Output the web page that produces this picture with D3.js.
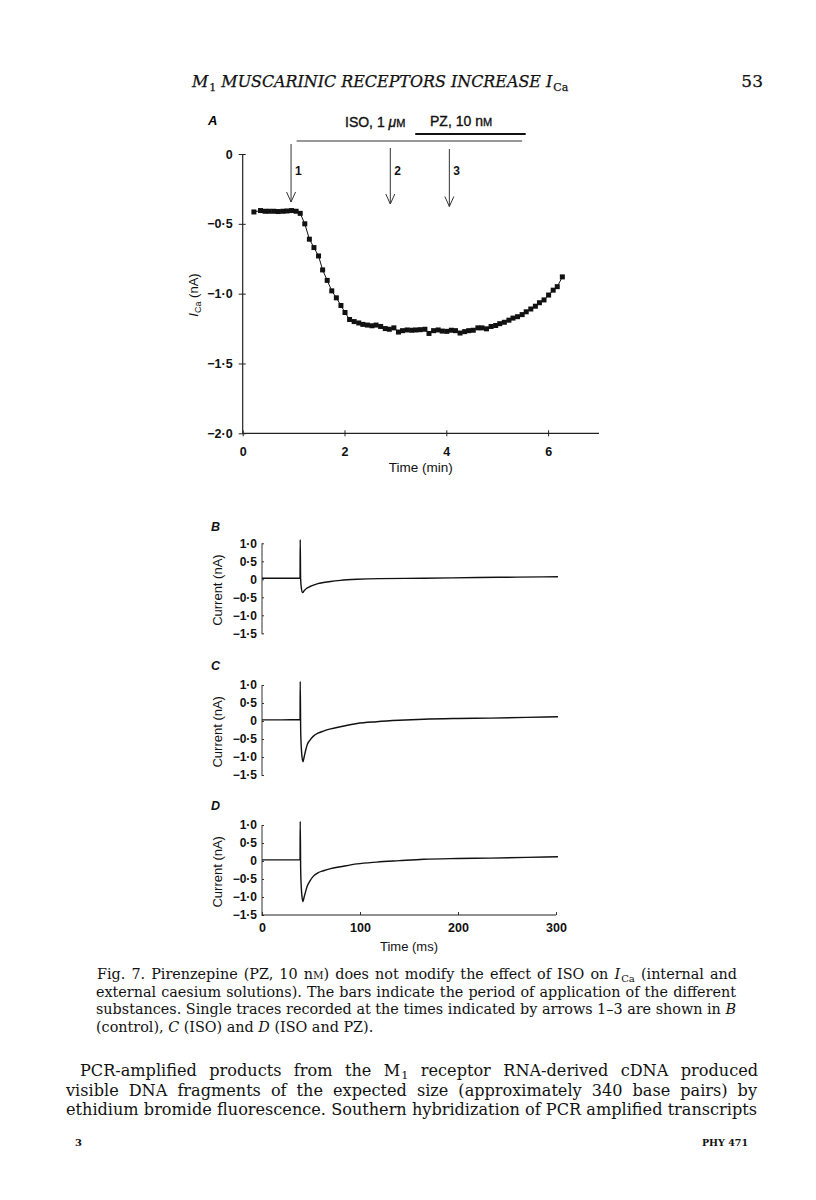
<!DOCTYPE html>
<html><head><meta charset="utf-8">
<script src="https://cdn.jsdelivr.net/npm/d3@7"></script>
<style>body{margin:0;background:#fff}</style>
</head><body>
<svg id="c" width="816" height="1200"></svg>
<script>
// ---------- DATA ----------
// Panel A: I_Ca (nA) vs time (min)
const timeMin = [0.22,0.35,0.44,0.52,0.61,0.70,0.79,0.87,0.96,1.05,1.13,1.22,1.31,1.40,1.49,1.57,1.66,1.75,1.84,1.93,2.01,2.10,2.19,2.28,2.36,2.45,2.54,2.62,2.71,2.80,2.88,2.97,3.06,3.14,3.23,3.32,3.40,3.49,3.58,3.66,3.75,3.84,3.92,4.01,4.10,4.18,4.27,4.36,4.44,4.53,4.62,4.70,4.79,4.88,4.97,5.05,5.14,5.23,5.31,5.40,5.49,5.57,5.66,5.75,5.83,5.92,6.01,6.10,6.18,6.28];
const iCa = [-0.415,-0.405,-0.41,-0.41,-0.41,-0.412,-0.41,-0.408,-0.405,-0.41,-0.425,-0.50,-0.61,-0.67,-0.73,-0.83,-0.905,-0.98,-1.03,-1.085,-1.135,-1.185,-1.20,-1.21,-1.22,-1.225,-1.23,-1.225,-1.235,-1.25,-1.255,-1.245,-1.275,-1.265,-1.26,-1.262,-1.26,-1.258,-1.255,-1.285,-1.265,-1.26,-1.268,-1.27,-1.262,-1.265,-1.282,-1.272,-1.265,-1.262,-1.245,-1.245,-1.252,-1.235,-1.228,-1.215,-1.205,-1.19,-1.175,-1.165,-1.15,-1.13,-1.11,-1.09,-1.065,-1.045,-1.01,-0.975,-0.95,-0.88];
const arrowTimes = [0.95, 2.90, 4.06];
const arrowLabels = ["1","2","3"];
const isoPeriod = [1.06, 5.49];
const pzPeriod = [3.39, 5.56];
const yTicksA = [0,-0.5,-1.0,-1.5,-2.0];
const xTicksA = [0,2,4,6];

// Panels B-D: single current traces (ms, nA)
const traceB_t = [0,20,38.8,39.0,39.4,40.2,41.5,43,45.7,49,52.5,57,62.7,70,80,97,120,165,220,260,302];
const traceB_i = [0.03,0.03,0.03,1.1,0.03,-0.25,-0.37,-0.32,-0.25,-0.2,-0.16,-0.12,-0.09,-0.06,-0.03,0,0.02,0.03,0.05,0.06,0.07];
const traceC_t = [0,20,38.8,39.0,39.5,40.5,41.8,43,44.5,46,49,52.5,57,62.7,70,80,97,117,140,165,200,233,270,302];
const traceC_i = [0.03,0.03,0.04,1.1,-0.3,-0.9,-1.13,-1.0,-0.82,-0.67,-0.53,-0.42,-0.34,-0.28,-0.22,-0.16,-0.07,-0.02,0.02,0.05,0.07,0.08,0.10,0.12];
const traceD_t = [0,20,38.8,39.0,39.5,40.5,41.8,43,44.5,46,49,52.5,57,62.7,70,80,97,117,140,165,200,233,270,302];
const traceD_i = [0.03,0.03,0.03,1.1,-0.3,-0.9,-1.13,-1.0,-0.85,-0.71,-0.55,-0.42,-0.33,-0.27,-0.21,-0.16,-0.08,-0.03,0.01,0.05,0.07,0.08,0.10,0.12];
const yTicksTrace = [1.0,0.5,0,-0.5,-1.0,-1.5];
const xTicksMs = [0,100,200,300];

// ---------- DRAWING ----------
const svg = d3.select("#c");
const SANS = "'Liberation Sans', Arial, Helvetica, sans-serif";
const SERIF = "'DejaVu Serif', 'Liberation Serif', serif";
const fmt = v => v === 0 ? "0" : (v < 0 ? "\u2212" : "") + Math.abs(v).toFixed(1).replace(".", "\u00B7");

// Header
const hdr = svg.append("text").attr("x",192).attr("y",87).attr("font-family",SERIF)
  .attr("font-size",17).attr("font-style","italic").attr("fill","#111")
  .attr("stroke","#111").attr("stroke-width",0.25);
hdr.append("tspan").text("M");
hdr.append("tspan").attr("dy",4).attr("dx",1).attr("font-size",11).attr("font-style","normal").text("1");
hdr.append("tspan").attr("dy",-4).text(" MUSCARINIC RECEPTORS INCREASE ");
hdr.append("tspan").text("I");
hdr.append("tspan").attr("dy",4).attr("dx",1).attr("font-size",11).attr("font-style","normal").text("Ca");
(function(){
  const w = hdr.node().getComputedTextLength();
  hdr.attr("font-size", 17 * 373 / w);
})();
svg.append("text").attr("x",763).attr("y",87).attr("text-anchor","end").attr("font-family",SERIF)
  .attr("font-size",17).attr("fill","#111").attr("stroke","#111").attr("stroke-width",0.25).text("53");

// ---- Panel A ----
const xA = d3.scaleLinear().domain([0,7]).range([242.7,599]);
const yA = d3.scaleLinear().domain([-2,0]).range([433.3,154]);
const gA = svg.append("g");

gA.append("text").attr("x",208).attr("y",125).attr("font-family",SANS).attr("font-weight","bold")
  .attr("font-style","italic").attr("font-size",13).text("A");

const axYA = gA.append("g").attr("transform",`translate(${xA(0)},0)`)
  .call(d3.axisLeft(yA).tickValues(yTicksA).tickSize(4).tickFormat(fmt));
axYA.select(".domain").remove();
axYA.selectAll(".tick line").attr("x1",3).attr("x2",-4).attr("stroke","#222");
axYA.selectAll(".tick text").attr("x",-10).attr("font-family",SANS).attr("font-weight","bold")
  .attr("font-size",12.5).attr("fill","#111");
gA.append("line").attr("x1",xA(0)).attr("x2",xA(0)).attr("y1",yA(0)).attr("y2",yA(-2))
  .attr("stroke","#222").attr("stroke-width",1.2);

const axXA = gA.append("g").attr("transform",`translate(0,${yA(-2)})`)
  .call(d3.axisBottom(xA).tickValues(xTicksA).tickSize(3).tickFormat(d3.format("d")));
axXA.select(".domain").remove();
axXA.selectAll(".tick line").attr("y1",-3).attr("y2",3).attr("stroke","#222");
axXA.selectAll(".tick text").attr("y",14).attr("dy","0.71em").attr("font-family",SANS).attr("font-weight","bold")
  .attr("font-size",12.5).attr("fill","#111");
gA.append("line").attr("x1",xA(0)).attr("x2",xA(7)).attr("y1",yA(-2)).attr("y2",yA(-2))
  .attr("stroke","#222").attr("stroke-width",1.2);
gA.append("text").attr("x",(xA(0)+xA(7))/2).attr("y",472).attr("text-anchor","middle")
  .attr("font-family",SANS).attr("font-size",13.5).attr("fill","#111").text("Time (min)");

const ylA = gA.append("text").attr("transform","translate(198,295) rotate(-90)").attr("text-anchor","middle")
  .attr("font-family",SANS).attr("font-size",13).attr("fill","#111");
ylA.append("tspan").attr("font-style","italic").text("I");
ylA.append("tspan").attr("font-size",9).attr("dy",3).text("Ca");
ylA.append("tspan").attr("dy",-3).text(" (nA)");

gA.append("line").attr("x1",xA(isoPeriod[0])).attr("x2",xA(isoPeriod[1])).attr("y1",141).attr("y2",141)
  .attr("stroke","#333").attr("stroke-width",1);
gA.append("line").attr("x1",xA(pzPeriod[0])).attr("x2",xA(pzPeriod[1])).attr("y1",134).attr("y2",134)
  .attr("stroke","#111").attr("stroke-width",2.2);
const isoT = gA.append("text").attr("x",345).attr("y",127).attr("font-family",SANS).attr("font-size",14)
  .attr("fill","#111").attr("stroke","#111").attr("stroke-width",0.35);
isoT.append("tspan").text("ISO, 1 ");
isoT.append("tspan").attr("font-style","italic").text("\u03BC");
isoT.append("tspan").attr("font-size",11).text("M");
const pzT = gA.append("text").attr("x",430).attr("y",126).attr("font-family",SANS).attr("font-size",14)
  .attr("fill","#111").attr("stroke","#111").attr("stroke-width",0.35);
pzT.append("tspan").text("PZ, 10 n");
pzT.append("tspan").attr("font-size",11).text("M");

const arrowTop = [144,148,149], arrowTip = [202,204,206.5];
arrowTimes.forEach((t,i) => {
  const x = xA(t);
  gA.append("line").attr("x1",x).attr("x2",x).attr("y1",arrowTop[i]).attr("y2",arrowTip[i])
    .attr("stroke","#333").attr("stroke-width",1);
  gA.append("path").attr("d",`M${x-4.5},${arrowTip[i]-10}L${x},${arrowTip[i]}L${x+4.5},${arrowTip[i]-10}`)
    .attr("fill","none").attr("stroke","#333").attr("stroke-width",1);
  gA.append("text").attr("x",x+4).attr("y",175).attr("font-family",SANS).attr("font-weight","bold")
    .attr("font-size",12).attr("fill","#111").text(arrowLabels[i]);
});

const ptsA = timeMin.map((t,i)=>[t,iCa[i]]);
gA.append("path").datum(ptsA).attr("fill","none").attr("stroke","#111").attr("stroke-width",1)
  .attr("d", d3.line().x(d=>xA(d[0])).y(d=>yA(d[1])));
gA.selectAll("rect.pt").data(ptsA).join("rect").attr("class","pt")
  .attr("x",d=>xA(d[0])-2.5).attr("y",d=>yA(d[1])-2.5).attr("width",5).attr("height",5).attr("fill","#111");

// ---- Panels B-D ----
const xT = d3.scaleLinear().domain([0,300]).range([262,556]);
const panels = [
  {label:"B", t:traceB_t, v:traceB_i, top:543.3, labY:531, xAxis:false},
  {label:"C", t:traceC_t, v:traceC_i, top:685, labY:670, xAxis:false},
  {label:"D", t:traceD_t, v:traceD_i, top:825, labY:810, xAxis:true}
];
panels.forEach(p => {
  const y = d3.scaleLinear().domain([-1.5,1.0]).range([p.top+90,p.top]);
  const g = svg.append("g");
  g.append("text").attr("x",211).attr("y",p.labY).attr("font-family",SANS).attr("font-weight","bold")
    .attr("font-style","italic").attr("font-size",12.5).attr("fill","#111").text(p.label);
  const ay = g.append("g").attr("transform",`translate(${xT(0)},0)`)
    .call(d3.axisLeft(y).tickValues(yTicksTrace).tickSize(2).tickFormat(fmt));
  ay.select(".domain").remove();
  ay.selectAll(".tick line").attr("x1",0).attr("x2",2).attr("stroke","#333");
  ay.selectAll(".tick text").attr("x",-5).attr("font-family",SANS).attr("font-weight","bold")
    .attr("font-size",12).attr("fill","#111");
  g.append("line").attr("x1",xT(0)).attr("x2",xT(0)).attr("y1",y(1.0)).attr("y2",y(-1.5)+1)
    .attr("stroke","#333").attr("stroke-width",1);
  g.append("text").attr("transform",`translate(222,${y(-0.3)}) rotate(-90)`).attr("text-anchor","middle")
    .attr("font-family",SANS).attr("font-size",13).attr("fill","#111").text("Current (nA)");
  if (p.xAxis) {
    const ax = g.append("g").attr("transform",`translate(0,${y(-1.5)})`)
      .call(d3.axisBottom(xT).tickValues(xTicksMs).tickSize(3).tickFormat(d3.format("d")));
    ax.select(".domain").remove();
    ax.selectAll(".tick line").attr("y1",0).attr("y2",-3).attr("stroke","#333");
    ax.selectAll(".tick text").attr("y",8).attr("dy","0.71em").attr("font-family",SANS).attr("font-weight","bold")
      .attr("font-size",12.5).attr("fill","#111");
    g.append("line").attr("x1",xT(0)).attr("x2",xT(300)).attr("y1",y(-1.5)).attr("y2",y(-1.5))
      .attr("stroke","#222").attr("stroke-width",1.2);
    g.append("text").attr("x",(xT(0)+xT(300))/2).attr("y",951).attr("text-anchor","middle")
      .attr("font-family",SANS).attr("font-size",13).attr("fill","#111").text("Time (ms)");
  }
  const pts = p.t.map((t,i)=>[t,p.v[i]]);
  g.append("path").datum(pts).attr("fill","none").attr("stroke","#111").attr("stroke-width",1.4)
    .attr("d", d3.line().x(d=>xT(d[0])).y(d=>y(d[1])).curve(d3.curveMonotoneX));
});

// ---- Caption / body text ----
function renderLine(spec, size) {
  const t = svg.append("text").attr("x",spec.x).attr("y",spec.y).attr("font-family",SERIF)
    .attr("font-size",size).attr("fill","#111");
  spec.parts.forEach(pt => {
    const s = t.append("tspan").text(pt.s);
    if (pt.i) s.attr("font-style","italic");
    if (pt.sm) s.attr("font-size",size*0.72);
    if (pt.sub) s.attr("font-size",size*0.7).attr("dy",3).attr("dx",1);
    if (pt.up) s.attr("dy",-3);
  });
  return t;
}
function textBlock(specs, base) {
  const ratios = [];
  specs.forEach(s => {
    if (!s.target) return;
    const t = renderLine(s, base);
    ratios.push(s.target / t.node().getComputedTextLength());
    t.remove();
  });
  const size = base * d3.min(ratios);
  specs.forEach(s => {
    const t = renderLine(s, size);
    if (s.target) {
      const w = t.node().getComputedTextLength();
      const spaces = s.parts.reduce((a,p)=>a+(p.s.match(/ /g)||[]).length,0);
      if (spaces > 0) t.attr("word-spacing", (s.target - w) / spaces);
    }
  });
}
textBlock([
  {x:97, y:979, target:639, parts:[{s:"Fig. 7. Pirenzepine (PZ, 10 n"},{s:"M",sm:1},{s:") does not modify the effect of ISO on "},{s:"I",i:1},{s:"Ca",sub:1},{s:" (internal and",up:1}]},
  {x:96, y:996.5, target:640, parts:[{s:"external caesium solutions). The bars indicate the period of application of the different"}]},
  {x:96, y:1014, target:640, parts:[{s:"substances. Single traces recorded at the times indicated by arrows 1\u20133 are shown in "},{s:"B",i:1}]},
  {x:96, y:1031.5, target:null, parts:[{s:"(control), "},{s:"C",i:1},{s:" (ISO) and "},{s:"D",i:1},{s:" (ISO and PZ)."}]}
], 13);
textBlock([
  {x:80, y:1076, target:677, parts:[{s:"PCR-amplified products from the M"},{s:"1",sub:1},{s:" receptor RNA-derived cDNA produced",up:1}]},
  {x:66, y:1095.5, target:691, parts:[{s:"visible DNA fragments of the expected size (approximately 340 base pairs) by"}]},
  {x:66, y:1115, target:691, parts:[{s:"ethidium bromide fluorescence. Southern hybridization of PCR amplified transcripts"}]}
], 15);

svg.append("text").attr("x",75).attr("y",1146).attr("font-family",SERIF).attr("font-size",10)
  .attr("font-weight","bold").attr("fill","#111").text("3");
svg.append("text").attr("x",748).attr("y",1146).attr("text-anchor","end").attr("font-family",SERIF)
  .attr("font-size",9.5).attr("font-weight","bold").attr("fill","#111").text("PHY 471");
</script>
</body></html>
